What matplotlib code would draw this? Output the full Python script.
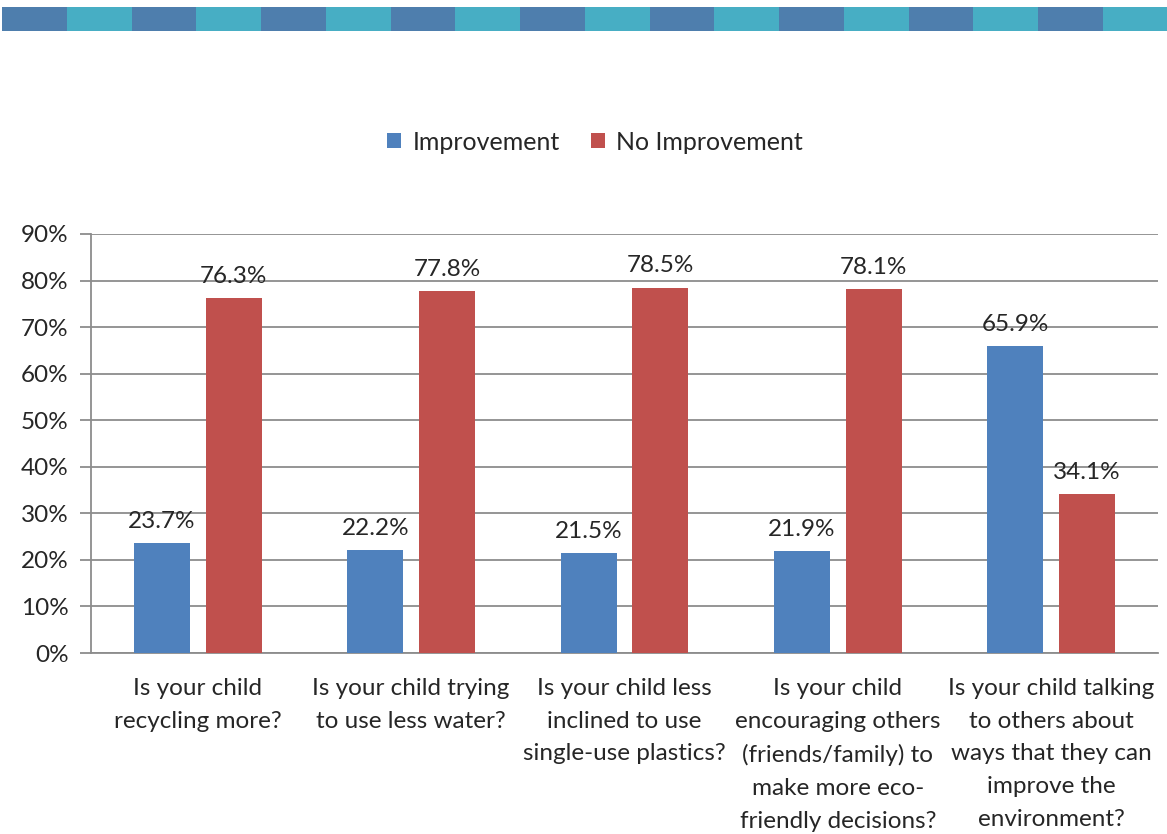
import matplotlib
matplotlib.use("Agg")
import matplotlib.pyplot as plt
from matplotlib.patches import Rectangle
import numpy as np

categories = [
    "Is your child\nrecycling more?",
    "Is your child trying\nto use less water?",
    "Is your child less\ninclined to use\nsingle-use plastics?",
    "Is your child\nencouraging others\n(friends/family) to\nmake more eco-\nfriendly decisions?",
    "Is your child talking\nto others about\nways that they can\nimprove the\nenvironment?",
]
improvement = [23.7, 22.2, 21.5, 21.9, 65.9]
no_improvement = [76.3, 77.8, 78.5, 78.1, 34.1]
series_names = ["Improvement", "No Improvement"]
yticks = [0, 10, 20, 30, 40, 50, 60, 70, 80, 90]

BLUE = "#4F81BD"
RED = "#C0504D"
TXT = "#262626"
GRID = "#8C8C8C"

plt.rcParams['font.family'] = ['Lato', 'DejaVu Sans']

W, H = 1167, 834
fig = plt.figure(figsize=(W / 100, H / 100), dpi=100)

# decorative top band
n_seg = 18
seg_w = 64.75
for i in range(n_seg):
    x0 = 2 + i * seg_w
    fig.patches.append(Rectangle((x0 / W, 1 - 31 / H), seg_w / W, 24 / H,
                                 transform=fig.transFigure,
                                 facecolor="#4E7EAD" if i % 2 == 0 else "#47AEC4",
                                 edgecolor="none"))

ax = fig.add_axes([91 / W, 1 - 653 / H, (1158 - 91) / W, (653 - 234) / H])
x = np.arange(len(categories))
bw = 0.262
off = 0.168
b1 = ax.bar(x - off, improvement, bw, color=BLUE, label=series_names[0], zorder=3)
b2 = ax.bar(x + off, no_improvement, bw, color=RED, label=series_names[1], zorder=3)

for bars, vals in ((b1, improvement), (b2, no_improvement)):
    for r, v in zip(bars, vals):
        ax.annotate(f"{v:.1f}%", (r.get_x() + r.get_width() / 2, v),
                    xytext=(0, 8), textcoords="offset points",
                    ha="center", va="bottom", fontsize=17.5, color=TXT, zorder=4)

ax.set_xlim(-0.5, len(categories) - 0.5)
ax.set_ylim(0, 90)
ax.set_yticks(yticks)
ax.set_yticklabels([f"{t}%" for t in yticks], fontsize=17.5, color=TXT)
ax.yaxis.grid(True, color=GRID, linewidth=1.3, zorder=0)
ax.set_axisbelow(True)
ax.tick_params(axis="y", length=8, width=1.3, color=GRID, pad=8)
ax.set_xticks(x)
ax.set_xticklabels(categories, fontsize=17.5, color=TXT, linespacing=1.69, va="top")
ax.tick_params(axis="x", length=0, pad=18)
for s in ("top", "right"):
    ax.spines[s].set_visible(False)
for s in ("left", "bottom"):
    ax.spines[s].set_color(GRID)
    ax.spines[s].set_linewidth(1.3)

fig.legend(handles=[b1, b2], labels=series_names, loc="center",
           bbox_to_anchor=(595 / W, 1 - 142 / H), ncol=2, frameon=False,
           fontsize=18, handlelength=0.55, handleheight=0.55, handletextpad=0.45,
           columnspacing=1.25, labelcolor=TXT)

fig.savefig("out.png", dpi=100, facecolor="white")
